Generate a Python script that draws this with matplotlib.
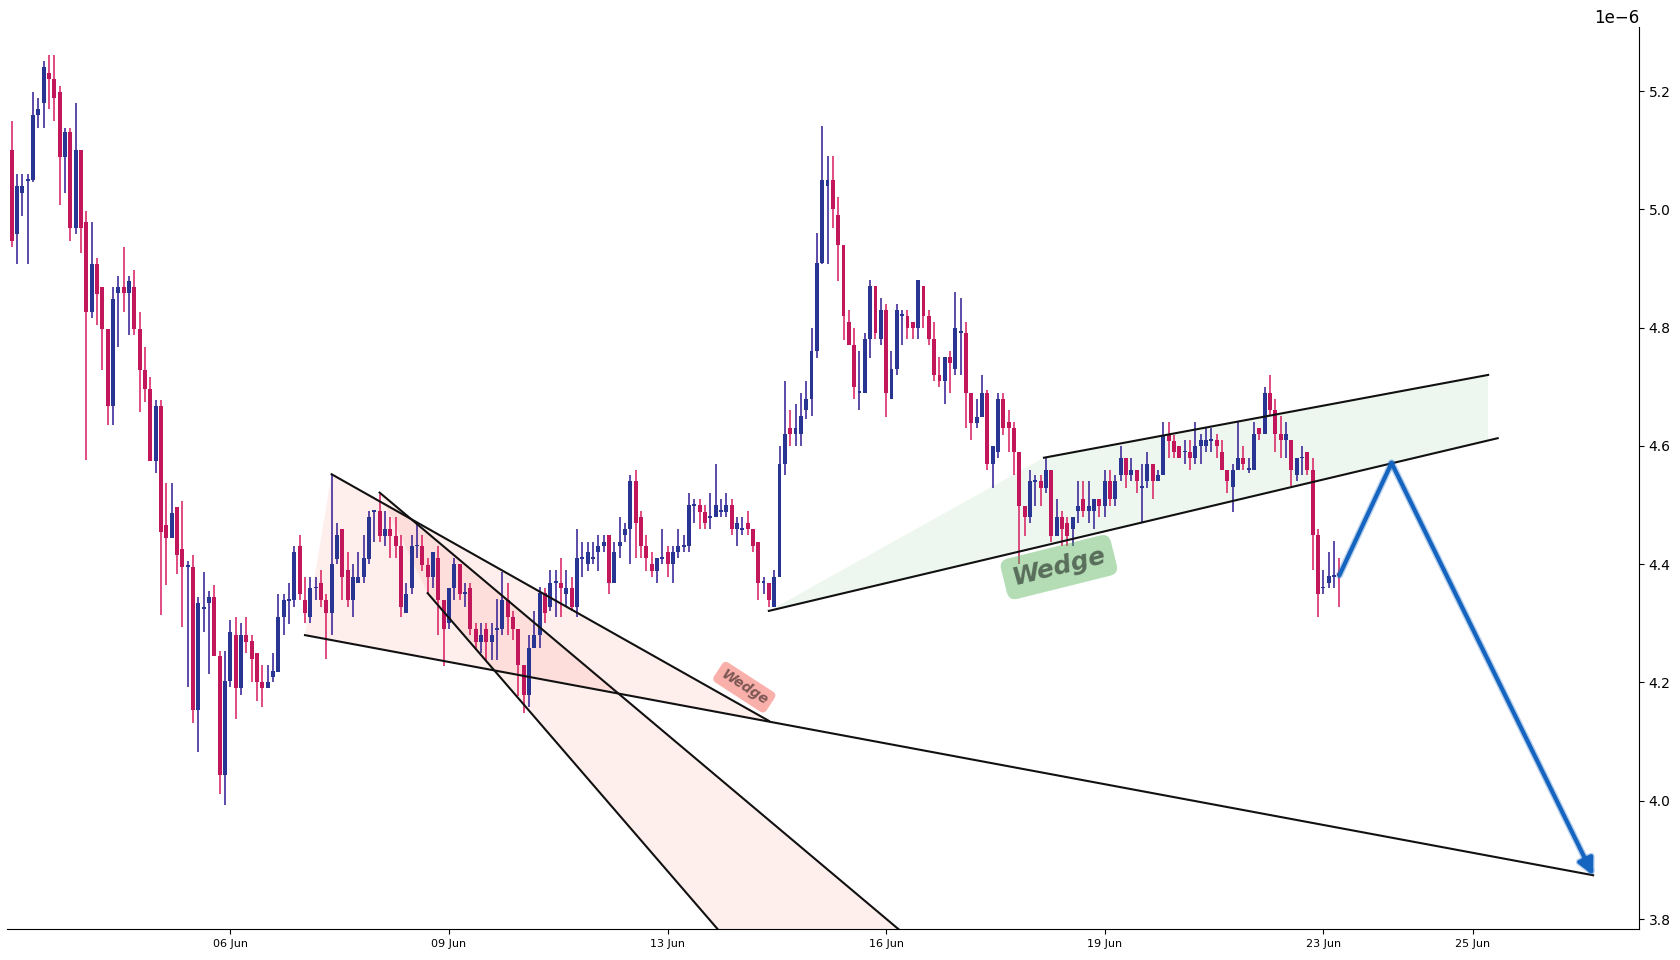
import matplotlib
matplotlib.use('Agg')
import matplotlib.pyplot as plt
import matplotlib.patheffects as pe
import numpy as np

# candle prices, in units of 1e-6
opens = [
    5.100, 4.958, 5.027, 5.048, 5.049, 5.159, 5.179, 5.230, 5.220, 5.199,
    5.089, 5.130, 4.968, 5.100, 4.978, 4.826, 4.907, 4.868, 4.797, 4.667,
    4.858, 4.868, 4.858, 4.868, 4.797, 4.728, 4.697, 4.575, 4.667, 4.466,
    4.445, 4.496, 4.425, 4.396, 4.396, 4.153, 4.325, 4.334, 4.344, 4.244,
    4.043, 4.203, 4.280, 4.190, 4.280, 4.270, 4.249, 4.200, 4.190, 4.209,
    4.218, 4.310, 4.338, 4.339, 4.430, 4.339, 4.310, 4.359, 4.369, 4.339,
    4.318, 4.409, 4.459, 4.390, 4.339, 4.369, 4.379, 4.409, 4.489, 4.490,
    4.448, 4.459, 4.448, 4.430, 4.318, 4.359, 4.430, 4.430, 4.399, 4.379,
    4.410, 4.339, 4.300, 4.359, 4.400, 4.350, 4.359, 4.290, 4.269, 4.290,
    4.269, 4.289, 4.290, 4.339, 4.310, 4.290, 4.230, 4.179, 4.259, 4.280,
    4.351, 4.328, 4.368, 4.369, 4.349, 4.359, 4.328, 4.409, 4.400, 4.409,
    4.420, 4.430, 4.449, 4.369, 4.430, 4.449, 4.459, 4.541, 4.479, 4.430,
    4.400, 4.389, 4.409, 4.420, 4.400, 4.420, 4.429, 4.430, 4.499, 4.500,
    4.489, 4.478, 4.479, 4.489, 4.489, 4.500, 4.459, 4.458, 4.469, 4.459,
    4.438, 4.368, 4.369, 4.328, 4.379, 4.569, 4.630, 4.620, 4.620, 4.661,
    4.679, 4.760, 4.909, 5.039, 5.050, 4.990, 4.940, 4.810, 4.770, 4.689,
    4.689, 4.781, 4.870, 4.781, 4.830, 4.679, 4.730, 4.820, 4.820, 4.810,
    4.799, 4.870, 4.820, 4.781, 4.720, 4.709, 4.750, 4.730, 4.791, 4.791,
    4.689, 4.639, 4.649, 4.689, 4.569, 4.589, 4.679, 4.640, 4.630, 4.589,
    4.499, 4.479, 4.539, 4.540, 4.529, 4.559, 4.448, 4.479, 4.470, 4.459,
    4.490, 4.510, 4.490, 4.490, 4.510, 4.499, 4.540, 4.510, 4.550, 4.579,
    4.550, 4.559, 4.529, 4.540, 4.569, 4.540, 4.550, 4.619, 4.609, 4.600,
    4.589, 4.590, 4.580, 4.600, 4.600, 4.609, 4.610, 4.590, 4.560, 4.530,
    4.560, 4.580, 4.559, 4.560, 4.630, 4.620, 4.689, 4.660, 4.620, 4.610,
    4.610, 4.550, 4.579, 4.590, 4.560, 4.449, 4.359, 4.369, 4.379, 4.385,
]
highs = [
    5.149, 5.059, 5.059, 5.059, 5.199, 5.189, 5.250, 5.261, 5.261, 5.209,
    5.138, 5.138, 5.179, 5.100, 4.998, 4.978, 4.917, 4.868, 4.797, 4.868,
    4.888, 4.937, 4.888, 4.898, 4.826, 4.768, 4.717, 4.677, 4.677, 4.537,
    4.537, 4.496, 4.506, 4.406, 4.416, 4.344, 4.386, 4.354, 4.364, 4.254,
    4.254, 4.306, 4.311, 4.301, 4.311, 4.280, 4.249, 4.230, 4.230, 4.249,
    4.350, 4.350, 4.369, 4.430, 4.449, 4.379, 4.379, 4.379, 4.390, 4.349,
    4.552, 4.469, 4.459, 4.420, 4.400, 4.420, 4.449, 4.490, 4.490, 4.518,
    4.490, 4.479, 4.479, 4.449, 4.369, 4.449, 4.469, 4.449, 4.410, 4.420,
    4.430, 4.339, 4.359, 4.410, 4.400, 4.369, 4.369, 4.300, 4.300, 4.300,
    4.300, 4.341, 4.386, 4.368, 4.320, 4.290, 4.230, 4.280, 4.320, 4.362,
    4.359, 4.390, 4.390, 4.410, 4.390, 4.379, 4.459, 4.438, 4.438, 4.438,
    4.449, 4.449, 4.449, 4.438, 4.479, 4.469, 4.551, 4.559, 4.490, 4.449,
    4.420, 4.410, 4.459, 4.430, 4.430, 4.459, 4.449, 4.520, 4.510, 4.510,
    4.500, 4.520, 4.569, 4.510, 4.520, 4.510, 4.479, 4.479, 4.490, 4.459,
    4.438, 4.379, 4.369, 4.390, 4.600, 4.710, 4.661, 4.670, 4.689, 4.710,
    4.800, 4.960, 5.141, 5.090, 5.090, 5.021, 4.940, 4.830, 4.799, 4.760,
    4.791, 4.881, 4.870, 4.850, 4.840, 4.760, 4.840, 4.830, 4.830, 4.810,
    4.881, 4.870, 4.830, 4.810, 4.750, 4.750, 4.760, 4.860, 4.850, 4.810,
    4.689, 4.679, 4.720, 4.695, 4.600, 4.689, 4.689, 4.661, 4.640, 4.589,
    4.499, 4.559, 4.550, 4.550, 4.579, 4.559, 4.510, 4.490, 4.479, 4.479,
    4.540, 4.540, 4.540, 4.510, 4.510, 4.559, 4.559, 4.550, 4.600, 4.579,
    4.579, 4.559, 4.569, 4.589, 4.569, 4.559, 4.640, 4.640, 4.619, 4.600,
    4.610, 4.610, 4.640, 4.620, 4.630, 4.630, 4.620, 4.610, 4.560, 4.569,
    4.640, 4.600, 4.580, 4.640, 4.630, 4.699, 4.720, 4.679, 4.650, 4.640,
    4.610, 4.580, 4.600, 4.590, 4.580, 4.459, 4.390, 4.420, 4.439, 4.410,
]
lows = [
    4.937, 4.907, 4.988, 4.907, 5.047, 5.138, 5.138, 5.169, 5.149, 5.008,
    5.027, 4.947, 4.958, 4.927, 4.576, 4.816, 4.805, 4.728, 4.636, 4.636,
    4.768, 4.826, 4.787, 4.787, 4.657, 4.675, 4.575, 4.555, 4.314, 4.365,
    4.445, 4.384, 4.294, 4.193, 4.132, 4.082, 4.285, 4.214, 4.244, 4.011,
    3.992, 4.193, 4.139, 4.179, 4.249, 4.200, 4.169, 4.159, 4.190, 4.200,
    4.218, 4.280, 4.299, 4.328, 4.339, 4.300, 4.300, 4.339, 4.328, 4.239,
    4.280, 4.400, 4.339, 4.328, 4.310, 4.369, 4.369, 4.400, 4.438, 4.438,
    4.430, 4.410, 4.410, 4.310, 4.318, 4.349, 4.410, 4.389, 4.349, 4.359,
    4.280, 4.228, 4.290, 4.339, 4.339, 4.328, 4.280, 4.255, 4.249, 4.238,
    4.238, 4.238, 4.280, 4.280, 4.272, 4.177, 4.149, 4.159, 4.259, 4.259,
    4.300, 4.320, 4.310, 4.310, 4.328, 4.320, 4.310, 4.379, 4.389, 4.400,
    4.389, 4.420, 4.349, 4.369, 4.410, 4.438, 4.400, 4.410, 4.410, 4.389,
    4.379, 4.369, 4.400, 4.379, 4.369, 4.410, 4.420, 4.420, 4.469, 4.459,
    4.459, 4.459, 4.479, 4.479, 4.479, 4.449, 4.430, 4.449, 4.449, 4.420,
    4.339, 4.349, 4.328, 4.328, 4.379, 4.550, 4.600, 4.600, 4.600, 4.645,
    4.650, 4.749, 4.908, 4.908, 4.969, 4.879, 4.779, 4.770, 4.679, 4.660,
    4.689, 4.749, 4.781, 4.770, 4.649, 4.679, 4.720, 4.770, 4.781, 4.781,
    4.781, 4.799, 4.770, 4.709, 4.699, 4.670, 4.689, 4.720, 4.720, 4.630,
    4.610, 4.630, 4.649, 4.560, 4.529, 4.579, 4.619, 4.589, 4.550, 4.400,
    4.448, 4.470, 4.499, 4.499, 4.520, 4.438, 4.448, 4.430, 4.430, 4.430,
    4.470, 4.479, 4.470, 4.459, 4.479, 4.479, 4.499, 4.499, 4.540, 4.529,
    4.540, 4.520, 4.470, 4.529, 4.510, 4.540, 4.550, 4.579, 4.579, 4.579,
    4.569, 4.560, 4.569, 4.569, 4.590, 4.590, 4.580, 4.560, 4.520, 4.489,
    4.560, 4.560, 4.555, 4.560, 4.610, 4.620, 4.650, 4.590, 4.580, 4.580,
    4.533, 4.540, 4.550, 4.550, 4.390, 4.310, 4.349, 4.360, 4.360, 4.328,
]
closes = [
    4.947, 5.039, 5.039, 5.051, 5.159, 5.169, 5.240, 5.220, 5.189, 5.089,
    5.130, 4.968, 5.100, 4.968, 4.826, 4.907, 4.856, 4.797, 4.667, 4.848,
    4.868, 4.858, 4.878, 4.797, 4.728, 4.697, 4.575, 4.667, 4.454, 4.445,
    4.486, 4.415, 4.395, 4.398, 4.153, 4.334, 4.327, 4.344, 4.244, 4.043,
    4.203, 4.285, 4.190, 4.280, 4.269, 4.239, 4.200, 4.190, 4.200, 4.219,
    4.311, 4.339, 4.340, 4.420, 4.349, 4.318, 4.359, 4.361, 4.339, 4.318,
    4.400, 4.449, 4.379, 4.339, 4.379, 4.379, 4.410, 4.479, 4.491, 4.448,
    4.459, 4.448, 4.430, 4.328, 4.349, 4.430, 4.432, 4.399, 4.379, 4.420,
    4.339, 4.290, 4.359, 4.400, 4.349, 4.352, 4.290, 4.269, 4.280, 4.269,
    4.280, 4.291, 4.339, 4.310, 4.290, 4.230, 4.179, 4.259, 4.280, 4.351,
    4.318, 4.369, 4.370, 4.359, 4.359, 4.328, 4.410, 4.411, 4.420, 4.411,
    4.430, 4.438, 4.369, 4.420, 4.438, 4.459, 4.541, 4.469, 4.430, 4.410,
    4.389, 4.410, 4.411, 4.400, 4.420, 4.430, 4.431, 4.500, 4.501, 4.489,
    4.469, 4.480, 4.500, 4.491, 4.500, 4.459, 4.469, 4.460, 4.459, 4.430,
    4.369, 4.370, 4.339, 4.379, 4.569, 4.620, 4.620, 4.630, 4.651, 4.679,
    4.760, 4.909, 5.050, 5.050, 5.000, 4.940, 4.819, 4.770, 4.699, 4.691,
    4.781, 4.870, 4.791, 4.830, 4.689, 4.730, 4.830, 4.822, 4.799, 4.799,
    4.881, 4.819, 4.781, 4.720, 4.709, 4.750, 4.740, 4.799, 4.793, 4.689,
    4.639, 4.649, 4.689, 4.570, 4.600, 4.679, 4.630, 4.630, 4.589, 4.499,
    4.479, 4.540, 4.541, 4.529, 4.559, 4.448, 4.479, 4.459, 4.448, 4.479,
    4.499, 4.490, 4.499, 4.510, 4.499, 4.540, 4.510, 4.540, 4.579, 4.550,
    4.559, 4.540, 4.531, 4.569, 4.540, 4.550, 4.619, 4.609, 4.589, 4.579,
    4.591, 4.580, 4.600, 4.610, 4.610, 4.611, 4.600, 4.560, 4.540, 4.560,
    4.580, 4.569, 4.561, 4.620, 4.620, 4.689, 4.660, 4.620, 4.610, 4.620,
    4.560, 4.580, 4.581, 4.560, 4.449, 4.349, 4.361, 4.380, 4.381, 4.380,
]

tick_pos = [41, 82, 123, 164, 205, 246, 274]
tick_labels = ['06 Jun', '09 Jun', '13 Jun', '16 Jun', '19 Jun', '23 Jun', '25 Jun']

# falling wedge (candle index, price 1e-6)
red_upper_x = [60, 142]
red_upper_y = [4.552, 4.135]
red_lower_x = [55, 296.6]
red_lower_y = [4.280, 3.874]
red_steep1_x = [69, 180]
red_steep1_y = [4.521, 3.679]
red_steep2_x = [78, 150]
red_steep2_y = [4.351, 3.599]

# rising wedge
green_upper_x = [193.6, 276.9]
green_upper_y = [4.580, 4.720]
green_lower_x = [142, 278.7]
green_lower_y = [4.321, 4.613]

# projected move
proj_x = [249, 258.8, 296.6]
proj_y = [4.381, 4.571, 3.874]

UP_BODY, UP_WICK = '#283593', '#311B92'
DN_BODY, DN_WICK = '#C2185B', '#D81B60'
S = 1e-6

o = np.array(opens) * S
h = np.array(highs) * S
l = np.array(lows) * S
c = np.array(closes) * S
x = np.arange(len(o))
up = c >= o

fig = plt.figure(figsize=(16.8, 9.6), dpi=100)
ax = fig.add_axes([0.00446, 0.03229, 0.97113, 0.93958])

# pattern fills
lo_at_apex = np.interp(red_upper_x[1], red_lower_x, red_lower_y)
ax.fill([red_lower_x[0], red_upper_x[0], red_upper_x[1]],
        np.array([red_lower_y[0], red_upper_y[0], lo_at_apex]) * S,
        color='#f44336', alpha=0.09, lw=0, zorder=1)
ax.fill([red_steep1_x[0], red_steep1_x[1], red_steep2_x[1], red_steep2_x[0]],
        np.array([red_steep1_y[0], red_steep1_y[1], red_steep2_y[1], red_steep2_y[0]]) * S,
        color='#f44336', alpha=0.09, lw=0, zorder=1)
lo_at_end = np.interp(green_upper_x[1], green_lower_x, green_lower_y)
ax.fill([green_lower_x[0], green_upper_x[0], green_upper_x[1], green_upper_x[1]],
        np.array([green_lower_y[0], green_upper_y[0], green_upper_y[1], lo_at_end]) * S,
        color='#4caf50', alpha=0.09, lw=0, zorder=1)

# candles
ax.vlines(x[up], l[up], h[up], color=UP_WICK, lw=1.1, zorder=2)
ax.vlines(x[~up], l[~up], h[~up], color=DN_WICK, lw=1.1, zorder=2)
body = np.maximum(np.abs(c - o), 0.003 * S)
ax.bar(x[up], body[up], bottom=np.minimum(o, c)[up], width=0.74,
       color=UP_BODY, zorder=3)
ax.bar(x[~up], body[~up], bottom=np.minimum(o, c)[~up], width=0.74,
       color=DN_BODY, zorder=3)

# wedge lines
for lx, ly in [(red_upper_x, red_upper_y), (red_lower_x, red_lower_y),
               (red_steep1_x, red_steep1_y), (red_steep2_x, red_steep2_y),
               (green_upper_x, green_upper_y), (green_lower_x, green_lower_y)]:
    ax.plot(lx, np.array(ly) * S, color='#111111', lw=1.5, zorder=4)

ax.text(137.4, 4.192 * S, 'Wedge', rotation=-33, rotation_mode='anchor',
        ha='center', va='center', fontsize=10, fontweight='bold',
        fontstyle='italic', color=(0, 0, 0, 0.5), zorder=5,
        bbox=dict(boxstyle='round,pad=0.35', fc=(0.957, 0.263, 0.212, 0.42), ec='none'))
ax.text(196.4, 4.395 * S, 'Wedge', rotation=14, rotation_mode='anchor',
        ha='center', va='center', fontsize=18, fontweight='bold',
        fontstyle='italic', color=(0, 0, 0, 0.5), zorder=5,
        bbox=dict(boxstyle='round,pad=0.35', fc=(0.298, 0.686, 0.314, 0.42), ec='none'))

# projection arrow
glow = [pe.Stroke(linewidth=5, foreground='#1565C0', alpha=0.3), pe.Normal()]
ax.plot(proj_x[:2], np.array(proj_y[:2]) * S, color='#1565C0', lw=3,
        solid_capstyle='round', path_effects=glow, zorder=6)
ax.annotate('', xy=(proj_x[2], proj_y[2] * S), xytext=(proj_x[1], proj_y[1] * S),
            arrowprops=dict(arrowstyle='-|>', color='#1565C0', lw=3,
                            mutation_scale=24, shrinkA=0, shrinkB=0,
                            path_effects=glow),
            zorder=6)

ax.set_xlim(-0.8, 305.2)
ax.set_ylim(3.7831 * S, 5.3083 * S)
ax.set_xticks(tick_pos)
ax.set_xticklabels(tick_labels, fontsize=8)
ax.set_yticks(np.arange(3.8, 5.21, 0.2) * S)
ax.yaxis.tick_right()
ax.tick_params(axis='y', labelsize=10)
ax.yaxis.get_offset_text().set_fontsize(12)
ax.spines['left'].set_visible(False)
ax.spines['top'].set_visible(False)

fig.savefig('out.png', dpi=100)
